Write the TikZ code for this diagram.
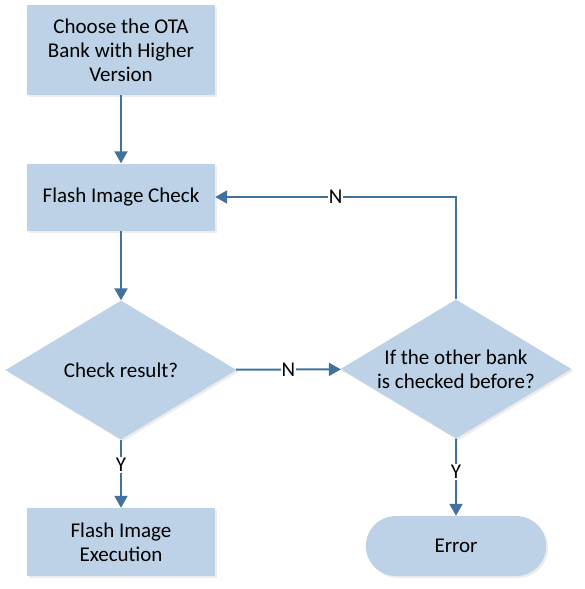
\documentclass[tikz,border=0pt]{standalone}
\usepackage{fontspec}
\setmainfont{Carlito}
\usetikzlibrary{shapes,arrows.meta,positioning,shadows}
\definecolor{boxblue}{HTML}{BDD2E6}
\definecolor{linkblue}{HTML}{41719C}

\begin{document}
\begin{tikzpicture}[x=1pt, y=-1pt, font=\fontsize{21}{24}\selectfont,
	box/.style={fill=boxblue, minimum width=188pt, align=center, inner sep=2pt,
		drop shadow={opacity=0.15, shadow xshift=2pt, shadow yshift=-2pt}},
	decision/.style={diamond, fill=boxblue, minimum width=231pt, minimum height=139pt,
		shape aspect=1.64, inner sep=-8pt, align=center,
		drop shadow={opacity=0.15, shadow xshift=2pt, shadow yshift=-2pt}},
	terminal/.style={rounded rectangle, fill=boxblue, minimum width=187pt, minimum height=60pt,
		drop shadow={opacity=0.15, shadow xshift=2pt, shadow yshift=-2pt}},
	link/.style={draw=linkblue, line width=2pt, -{Triangle[length=12pt, width=13pt]}},
	lbl/.style={fill=white, inner sep=1pt}]
	\useasboundingbox (0,0) rectangle (585,589);

	% Boxes and decisions
	\node[box, minimum height=90pt] (choose) at (121,50) {Choose the OTA\\Bank with Higher\\Version};
	\node[box, minimum height=67pt] (check) at (121,197) {Flash Image Check};
	\node[decision] (result) at (121,370) {Check result?};
	\node[decision] (other) at (456,369) {If the other bank\\is checked before?};
	\node[box, minimum height=68pt] (exec) at (121,542) {Flash Image\\Execution};
	\node[terminal] (error) at (456,546) {Error};

	% Connectors
	\draw[link] (choose) -- (check);
	\draw[link] (check) -- (result);
	\draw[link] (result) -- node[lbl] {N} (other);
	\draw[link] (result) -- node[lbl, pos=0.37] {Y} (exec);
	\draw[link] (other) -- node[lbl, pos=0.43] {Y} (error);
	% Retry with the other bank
	\draw[link] (other.north) |- node[lbl, pos=0.75] {N} (check.east);
\end{tikzpicture}
\end{document}
